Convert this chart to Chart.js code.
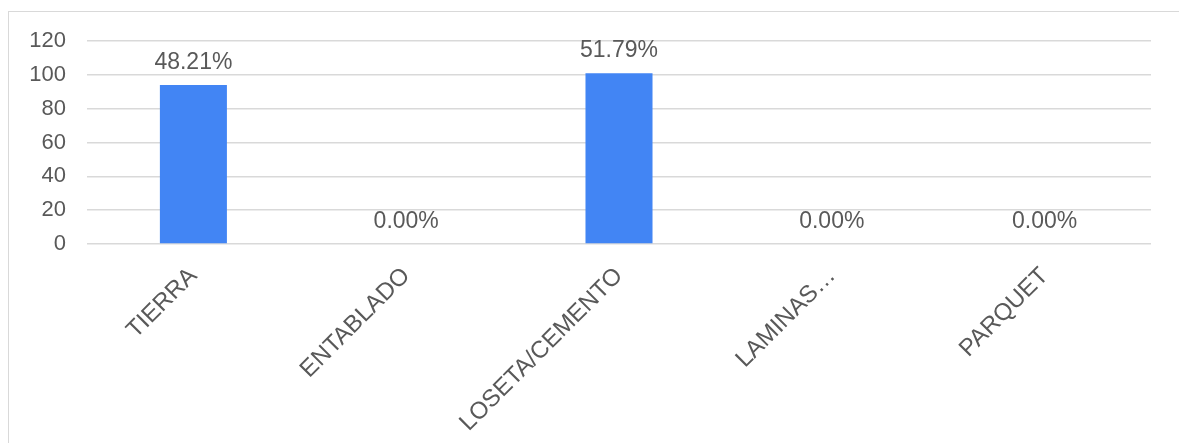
<!DOCTYPE html>
<html>
<head>
<meta charset="utf-8">
<script src="https://cdn.jsdelivr.net/npm/chart.js@4.4.1/dist/chart.umd.min.js"></script>
<style>
  html, body { margin: 0; padding: 0; background: #fff; overflow: hidden; }
  #frame { position: absolute; left: 8px; top: 11px; width: 1300px; height: 600px;
           border: 1.5px solid #d9d9d9; box-sizing: border-box; }
  #wrap { position: absolute; left: 0; top: 0; width: 1179px; height: 443px; }
</style>
</head>
<body>
<div id="frame"></div>
<div id="wrap"><canvas id="c"></canvas></div>
<script>
// Floor types and household counts
const categories = ['TIERRA', 'ENTABLADO', 'LOSETA/CEMENTO', 'LAMINAS…', 'PARQUET'];
const counts = [94, 0, 101, 0, 0];
const yTicks = [0, 20, 40, 60, 80, 100, 120];

const total = counts.reduce((a, b) => a + b, 0);
const percentLabels = counts.map(v => (v / total * 100).toFixed(2) + '%');

const FONT = '"Liberation Sans", Arial, sans-serif';
const TEXT = '#595959';

// Percentage label above each bar
const valueLabels = {
  id: 'valueLabels',
  afterDatasetsDraw(chart) {
    const ctx = chart.ctx;
    const meta = chart.getDatasetMeta(0);
    ctx.save();
    ctx.font = '23px ' + FONT;
    ctx.fillStyle = TEXT;
    ctx.textAlign = 'center';
    ctx.textBaseline = 'alphabetic';
    meta.data.forEach((bar, i) => {
      ctx.fillText(percentLabels[i], bar.x, bar.y - 16);
    });
    ctx.restore();
  }
};

new Chart(document.getElementById('c'), {
  type: 'bar',
  data: {
    labels: categories,
    datasets: [{
      data: counts,
      backgroundColor: '#4285f4',
      borderWidth: 0,
      categoryPercentage: 1,
      barPercentage: 0.315
    }]
  },
  options: {
    responsive: true,
    maintainAspectRatio: false,
    animation: false,
    layout: { padding: { top: 41, right: 28, left: 0, bottom: 0 } },
    plugins: { legend: { display: false }, tooltip: { enabled: false } },
    scales: {
      y: {
        min: yTicks[0],
        max: yTicks[yTicks.length - 1],
        afterBuildTicks(scale) { scale.ticks = yTicks.map(v => ({ value: v })); },
        afterFit(scale) { scale.width = 87; },
        ticks: { color: TEXT, font: { family: FONT, size: 22 }, padding: 21 },
        grid: { color: '#d9d9d9', lineWidth: 1.5, drawTicks: false },
        border: { display: false }
      },
      x: {
        afterFit(scale) { scale.height = 199; },
        ticks: {
          color: TEXT, font: { family: FONT, size: 24 },
          minRotation: 45, maxRotation: 45, autoSkip: false, padding: 10
        },
        grid: { display: false },
        border: { display: false }
      }
    }
  },
  plugins: [valueLabels]
});
</script>
</body>
</html>
